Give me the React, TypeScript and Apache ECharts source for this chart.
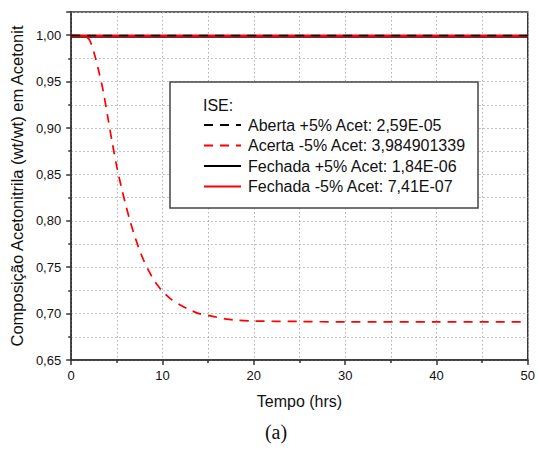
import React, { useEffect, useRef } from "react";
import * as echarts from "echarts";

const timeRed = [0, 1, 1.5, 2, 2.5, 3, 3.5, 4, 4.5, 5, 5.5, 6, 6.5, 7, 7.5, 8, 8.5, 9, 9.5, 10, 11, 12, 13, 14, 15, 16, 17, 18, 20, 25, 30, 40, 50];
const valRed = [1.0, 0.9995, 0.999, 0.995, 0.981, 0.962, 0.94, 0.912, 0.884, 0.858, 0.836, 0.816, 0.798, 0.782, 0.768, 0.756, 0.746, 0.737, 0.73, 0.724, 0.715, 0.709, 0.704, 0.7, 0.698, 0.696, 0.694, 0.693, 0.692, 0.6915, 0.691, 0.691, 0.691];
const timeFlat = [0, 50];
const valAbertaPlus = [0.9996, 0.9996];
const valFechadaPlus = [0.9985, 0.9985];
const valFechadaMinus = [0.9993, 0.9993];

const names = [
  "Aberta +5% Acet: 2,59E-05",
  "Acerta -5% Acet: 3,984901339",
  "Fechada +5% Acet: 1,84E-06",
  "Fechada -5% Acet: 7,41E-07",
];

const FONT = "Liberation Sans, Arial, sans-serif";

export default function App() {
  const ref = useRef<HTMLDivElement>(null);
  useEffect(() => {
    const chart = echarts.init(ref.current!, null, { renderer: "svg" });
    const pair = (xs: number[], ys: number[]) => xs.map((x, i) => [x, ys[i]]);
    const gridLine = { show: true, lineStyle: { color: "#b0b0b0", type: [1.5, 2.5], width: 1 } };
    chart.setOption({
      animation: false,
      backgroundColor: "#ffffff",
      grid: { left: 68, right: 5, top: 12, bottom: 90, show: true, borderColor: "#333", borderWidth: 1.5, backgroundColor: "transparent" },
      xAxis: {
        type: "value",
        min: 0,
        max: 50,
        interval: 10,
        name: "Tempo (hrs)",
        nameLocation: "middle",
        nameGap: 33,
        nameTextStyle: { fontFamily: FONT, fontSize: 16, color: "#111" },
        axisLine: { show: true, onZero: false, lineStyle: { color: "#333", width: 1.5 } },
        axisTick: { show: true, inside: false, length: 5, lineStyle: { color: "#333", width: 1.5 } },
        minorTick: { show: true, splitNumber: 2, length: 3, lineStyle: { color: "#333", width: 1.5 } },
        axisLabel: { fontFamily: FONT, fontSize: 13, color: "#111", margin: 9 },
        splitLine: gridLine,
        minorSplitLine: gridLine,
      },
      yAxis: {
        type: "value",
        min: 0.65,
        max: 1.025,
        interval: 0.05,
        name: "Composição Acetonitrila (wt/wt) em Acetonit",
        nameLocation: "middle",
        nameGap: 42,
        nameRotate: 90,
        nameTextStyle: { fontFamily: FONT, fontSize: 16.5, color: "#111" },
        axisLine: { show: true, onZero: false, lineStyle: { color: "#333", width: 1.5 } },
        axisTick: { show: true, inside: false, length: 5, lineStyle: { color: "#333", width: 1.5 } },
        minorTick: { show: true, splitNumber: 2, length: 3, lineStyle: { color: "#333", width: 1.5 } },
        axisLabel: {
          fontFamily: FONT,
          fontSize: 13,
          color: "#111",
          margin: 10,
          showMaxLabel: false,
          formatter: (v: number) => {
            const k = Math.round(v * 100);
            if (Math.abs(v * 100 - k) > 1e-6 || k % 5 !== 0 || v > 1.001) return "";
            return v.toFixed(2).replace(".", ",");
          },
        },
        splitLine: gridLine,
        minorSplitLine: gridLine,
      },
      legend: {
        orient: "vertical",
        left: 203,
        top: 117,
        itemWidth: 37,
        itemHeight: 4,
        itemGap: 4.5,
        padding: 0,
        z: 10,
        itemStyle: { opacity: 0 },
        textStyle: { fontFamily: FONT, fontSize: 16, lineHeight: 16, color: "#111", padding: [0, 0, 0, 2] },
        data: names,
      },
      graphic: [
        {
          type: "rect",
          shape: { x: 170, y: 82, width: 308, height: 126 },
          style: { fill: "#fff", stroke: "#444", lineWidth: 1.5 },
          z: 3,
        },
        {
          type: "text",
          x: 203,
          y: 105,
          style: { text: "ISE:", font: `16px ${FONT}`, fill: "#111", textVerticalAlign: "middle" },
          z: 11,
        },
        {
          type: "text",
          x: 276,
          y: 432,
          style: { text: "(a)", font: "20px Liberation Serif, serif", fill: "#111", textAlign: "center", textVerticalAlign: "middle" },
          z: 11,
        },
      ],
      series: [
        {
          name: names[0],
          type: "line",
          data: pair(timeFlat, valAbertaPlus),
          symbol: "none",
          lineStyle: { color: "#000", width: 1.5, type: [9, 7] },
          itemStyle: { color: "#000" },
          z: 5,
        },
        {
          name: names[1],
          type: "line",
          data: pair(timeRed, valRed),
          symbol: "none",
          smooth: 0.3,
          lineStyle: { color: "#ff0000", width: 1.7, type: [9, 7] },
          itemStyle: { color: "#ff0000" },
          z: 4,
        },
        {
          name: names[2],
          type: "line",
          data: pair(timeFlat, valFechadaPlus),
          symbol: "none",
          lineStyle: { color: "#000", width: 2.5, type: "solid" },
          itemStyle: { color: "#000" },
          z: 2,
        },
        {
          name: names[3],
          type: "line",
          data: pair(timeFlat, valFechadaMinus),
          symbol: "none",
          lineStyle: { color: "#ff0000", width: 2.5, type: "solid" },
          itemStyle: { color: "#ff0000" },
          z: 3,
        },
      ],
    });
    return () => chart.dispose();
  }, []);
  return <div ref={ref} style={{ position: "fixed", left: 0, top: 0, width: 538, height: 450 }} />;
}
